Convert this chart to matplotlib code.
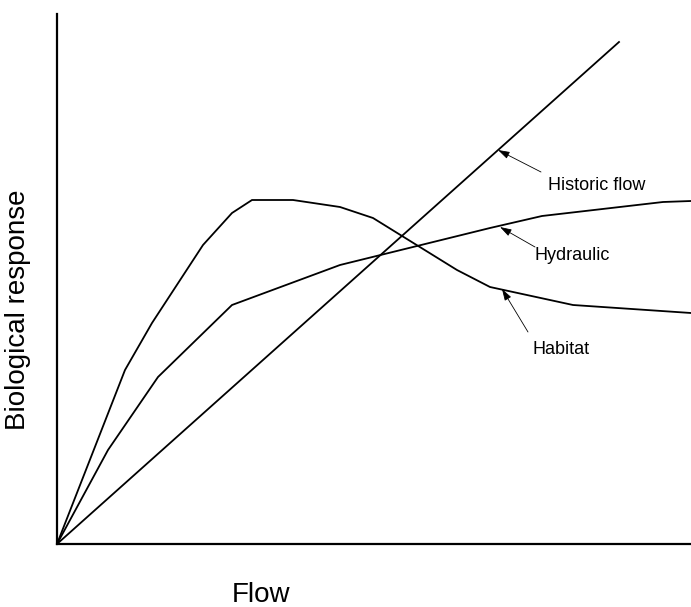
import matplotlib.pyplot as plt

plt.rcParams['font.family'] = ['Liberation Sans', 'DejaVu Sans']

# values (arbitrary units, origin at the axes corner)
habitat_x = [0, 68, 95, 146, 175, 195, 236, 283, 316, 400, 433, 516, 634]
habitat_y = [0, 174, 221, 299, 331, 344, 344, 337, 326, 274, 257, 239, 231]

hydraulic_x = [0, 51, 101, 175, 283, 433, 485, 606, 634]
hydraulic_y = [0, 94, 167, 239, 279, 316, 328, 342, 343]

historic_x = [0, 562]
historic_y = [0, 502]

# annotation labels: (text, text x, text y, arrow tail, arrow head)
labels = [
    ("Historic flow", 491, 359, (484, 372), (441, 394)),
    ("Hydraulic", 478, 288, (478, 297), (443, 317)),
    ("Habitat", 476, 194, (471, 212), (445, 255)),
]

fig = plt.figure(figsize=(6.91, 6.07), dpi=100)
ax = fig.add_axes([57 / 691, 63 / 607, 634 / 691, 530 / 607])

for xs, ys in [(habitat_x, habitat_y), (hydraulic_x, hydraulic_y), (historic_x, historic_y)]:
    ax.plot(xs, ys, color='black', lw=1.3, solid_joinstyle='miter')

for text, tx, ty, tail, head in labels:
    ax.text(tx, ty, text, ha='left', va='center', fontsize=13)
    ax.annotate('', xy=head, xytext=tail,
                arrowprops=dict(arrowstyle='-|>,head_length=0.7,head_width=0.22',
                                lw=0.6, color='black', shrinkA=0, shrinkB=0))

ax.set_xlim(0, 634)
ax.set_ylim(0, 530)
ax.set_xticks([])
ax.set_yticks([])
ax.spines['top'].set_visible(False)
ax.spines['right'].set_visible(False)
ax.spines['left'].set_linewidth(1.6)
ax.spines['bottom'].set_linewidth(1.6)

fig.text(18 / 691, 1 - 310 / 607, "Biological response", rotation=90,
         ha='center', va='center', fontsize=20)
fig.text(261 / 691, 1 - 595 / 607, "Flow", ha='center', va='center', fontsize=20)

fig.savefig('out.png', dpi=100)
